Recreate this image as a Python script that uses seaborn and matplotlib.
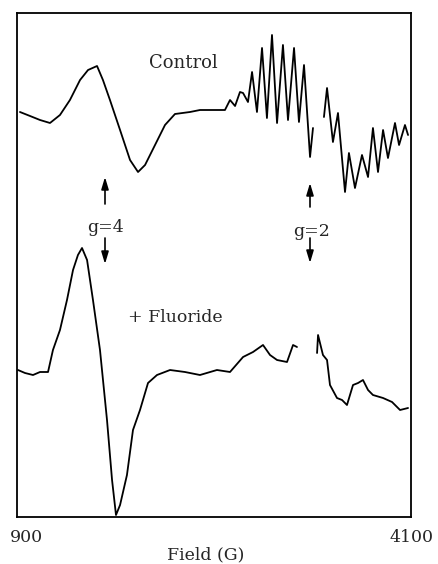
import numpy as np
import pandas as pd
import matplotlib
matplotlib.use("Agg")
import matplotlib.pyplot as plt
import matplotlib.transforms as mtransforms
import seaborn as sns

# ---- data (field in G, signal in arbitrary units) ----
control_field_1 = [924, 1006, 1087, 1168, 1249, 1330, 1412, 1477, 1550, 1598, 1655, 1737,
                   1818, 1883, 1940, 2021, 2102, 2183, 2305, 2386, 2468, 2589, 2630, 2671,
                   2711, 2736, 2776, 2809, 2849, 2890, 2930, 2971, 3012, 3060, 3101, 3150,
                   3190, 3231, 3280, 3304]
control_sig_1 = [405, 401, 397, 394, 402, 417, 437, 447, 451, 437, 417, 387,
                 357, 345, 352, 372, 392, 403, 405, 407, 407, 407, 417, 411,
                 425, 424, 415, 445, 405, 469, 399, 482, 394, 472, 397, 469,
                 395, 452, 360, 389]
control_field_2 = [3393, 3418, 3466, 3507, 3564, 3596, 3645, 3702, 3751, 3791, 3832, 3873,
                   3913, 3970, 4003, 4051, 4076]
control_sig_2 = [400, 429, 375, 404, 325, 364, 329, 362, 340, 389, 345, 387,
                 359, 394, 372, 392, 382]

fluor_field_1 = [908, 965, 1030, 1087, 1152, 1192, 1249, 1306, 1355, 1395, 1428, 1469,
                 1517, 1574, 1631, 1672, 1704, 1737, 1793, 1842, 1899, 1964, 2037, 2143,
                 2264, 2386, 2524, 2630, 2736, 2817, 2898, 2955, 3012, 3093, 3142, 3174]
fluor_sig_1 = [147, 144, 142, 145, 145, 167, 187, 217, 247, 262, 269, 257,
               217, 167, 97, 37, 2, 12, 42, 87, 107, 134, 142, 147,
               145, 142, 147, 145, 160, 165, 172, 162, 157, 155, 172, 170]
fluor_field_2 = [3337, 3345, 3385, 3418, 3442, 3499, 3540, 3580, 3629, 3670, 3710, 3751,
                 3791, 3873, 3946, 4011, 4076]
fluor_sig_2 = [164, 182, 162, 157, 132, 119, 117, 112, 132, 134, 137, 127,
               122, 119, 115, 107, 109]

tick_values = [900, 4100]
tick_labels = ["900", "4100"]
x_label = "Field (G)"

segments = [
    ("control", 1, control_field_1, control_sig_1),
    ("control", 2, control_field_2, control_sig_2),
    ("fluoride", 1, fluor_field_1, fluor_sig_1),
    ("fluoride", 2, fluor_field_2, fluor_sig_2),
]
frames = []
for name, seg, f, s in segments:
    frames.append(pd.DataFrame({"field": f, "signal": s,
                                "trace": f"{name}{seg}"}))
df = pd.concat(frames, ignore_index=True)

# ---- styling ----
sns.set_theme(style="white")
plt.rcParams["font.family"] = ["DejaVu Serif"]

fig = plt.figure(figsize=(4.38, 5.64), dpi=100)
ax = fig.add_axes([17 / 438, 47 / 564, 394 / 438, 504 / 564])

for tr, sub in df.groupby("trace", sort=False):
    sns.lineplot(data=sub, x="field", y="signal", ax=ax, color="black",
                 linewidth=1.3, sort=False, estimator=None, legend=False)

ax.set_xlim(900, 4100)
ax.set_ylim(0, 504)
ax.set_xlabel("")
ax.set_ylabel("")
ax.set_yticks([])
ax.set_xticks(tick_values)
ax.set_xticklabels(tick_labels, fontsize=12.5)
ax.tick_params(axis="x", length=0, pad=9)
lbl0 = ax.get_xticklabels()[0]
lbl0.set_transform(lbl0.get_transform() +
                   mtransforms.ScaledTranslation(9 / 100, 0, fig.dpi_scale_trans))
for sp in ax.spines.values():
    sp.set_visible(True)
    sp.set_color("black")
    sp.set_linewidth(1.3)

fig.text(206 / 438, 1 - 555 / 564, x_label, ha="center", va="center", fontsize=12.5)


def ax_pt(px, py):
    return ((px - 17) / 394, (517 - py) / 504)


ax.text(*ax_pt(183, 63), "Control", transform=ax.transAxes, ha="center",
        va="center", fontsize=13)
ax.text(*ax_pt(128, 317), "+ Fluoride", transform=ax.transAxes, ha="left",
        va="center", fontsize=12.5)
ax.text(*ax_pt(106, 228), "g=4", transform=ax.transAxes, ha="center",
        va="center", fontsize=12.5)
ax.text(*ax_pt(312, 231), "g=2", transform=ax.transAxes, ha="center",
        va="center", fontsize=12.5)

arrow_kw = dict(arrowstyle="-|>,head_length=0.6,head_width=0.18",
                color="black", lw=1.2, shrinkA=0, shrinkB=0)
for (x0, y0, x1, y1) in [(105, 204, 105, 177), (105, 238, 105, 264),
                         (310, 207, 310, 183), (310, 238, 310, 263)]:
    ax.annotate("", xy=ax_pt(x1, y1), xytext=ax_pt(x0, y0),
                xycoords="axes fraction", textcoords="axes fraction",
                arrowprops=arrow_kw)

fig.savefig("out.png", dpi=100)
